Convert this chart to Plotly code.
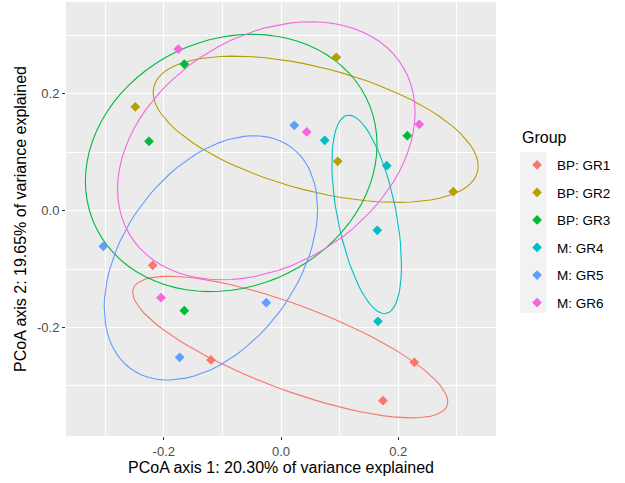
import numpy as np
import plotly.graph_objects as go

groups = ["BP: GR1", "BP: GR2", "BP: GR3", "M: GR4", "M: GR5", "M: GR6"]
colors = ["#F8766D", "#B79F00", "#00BA38", "#00BFC4", "#619CFF", "#F564E3"]

gr1_x = [-0.219, -0.1195, 0.2275, 0.174]
gr1_y = [-0.0935, -0.2556, -0.2596, -0.3253]
gr2_x = [-0.2486, 0.0944, 0.0968, 0.294]
gr2_y = [0.178, 0.2627, 0.0846, 0.0325]
gr3_x = [-0.165, -0.2253, 0.2155, -0.165]
gr3_y = [0.2512, 0.1188, 0.1284, -0.1712]
gr4_x = [0.0746, 0.1804, 0.1643, 0.1655]
gr4_y = [0.1205, 0.0771, -0.0336, -0.1894]
gr5_x = [0.0227, -0.3032, -0.0251, -0.1729]
gr5_y = [0.1462, -0.061, -0.1575, -0.251]
gr6_x = [-0.1753, 0.0439, 0.236, -0.2048]
gr6_y = [0.2769, 0.1348, 0.148, -0.149]

xs = [gr1_x, gr2_x, gr3_x, gr4_x, gr5_x, gr6_x]
ys = [gr1_y, gr2_y, gr3_y, gr4_y, gr5_y, gr6_y]

x_ticks = [-0.2, 0.0, 0.2]
y_ticks = [-0.2, 0.0, 0.2]

ELLIPSE_RADIUS = 1.23  # scale of the covariance ellipses (in std units)


def ellipse(xv, yv, segments=80):
    pts = np.column_stack([xv, yv])
    center = pts.mean(0)
    shape = np.cov(pts, rowvar=False)
    chol = np.linalg.cholesky(shape).T  # upper triangular like R chol
    ang = np.arange(segments + 1) * 2 * np.pi / segments
    circ = np.column_stack([np.cos(ang), np.sin(ang)])
    e = center + ELLIPSE_RADIUS * (circ @ chol)
    return e[:, 0], e[:, 1]


fig = go.Figure()
for g, c, xv, yv in zip(groups, colors, xs, ys):
    ex, ey = ellipse(xv, yv)
    fig.add_trace(go.Scatter(x=ex, y=ey, mode="lines", line=dict(color=c, width=1.1),
                             showlegend=False, hoverinfo="skip", legendgroup=g))
for g, c, xv, yv in zip(groups, colors, xs, ys):
    fig.add_trace(go.Scatter(x=xv, y=yv, mode="markers", name=g, legendgroup=g,
                             marker=dict(symbol="diamond", size=7.5, color=c)))

fig.add_shape(type="rect", xref="paper", yref="paper", x0=1.0556, x1=1.118,
              y0=0.284, y1=0.655, fillcolor="#F2F2F2", line=dict(width=0), layer="below")
fig.add_annotation(text="Group", xref="paper", yref="paper", x=1.0556, y=0.688,
                   xanchor="left", yanchor="middle", showarrow=False,
                   font=dict(size=16, color="#000000"))

axis_common = dict(
    showgrid=True, gridcolor="#FFFFFF", gridwidth=1.3, zeroline=False,
    ticks="outside", ticklen=3, tickcolor="#333333", tickwidth=1,
    tickfont=dict(size=13, color="#4D4D4D"), showline=False, automargin=False,
    minor=dict(showgrid=True, gridcolor="#FFFFFF", gridwidth=0.6, dtick=0.1, tick0=0.1),
)
fig.update_xaxes(range=[-0.3669, 0.3669], tickvals=x_ticks, ticktext=["-0.2", "0.0", "0.2"],
                 title=dict(text="PCoA axis 1: 20.30% of variance explained",
                            font=dict(size=16, color="#000000"), standoff=2),
                 **axis_common)
fig.update_yaxes(range=[-0.3858, 0.3574], tickvals=y_ticks, ticktext=["-0.2", "0.0", "0.2"],
                 title=dict(text="PCoA axis 2: 19.65% of variance explained",
                            font=dict(size=16, color="#000000"), standoff=6),
                 **axis_common)

fig.update_layout(
    width=625, height=483,
    margin=dict(l=66, r=129, t=2, b=47),
    plot_bgcolor="#EBEBEB", paper_bgcolor="#FFFFFF",
    font=dict(family="Liberation Sans, Arial, sans-serif"),
    legend=dict(x=1.049, y=0.66, xanchor="left", yanchor="top",
                font=dict(size=13.5, color="#000000"), tracegroupgap=7,
                bgcolor="rgba(0,0,0,0)", itemwidth=30),
)

fig.write_html("out.html", config={"displayModeBar": False},
               post_script="document.body.style.margin='0px';")
